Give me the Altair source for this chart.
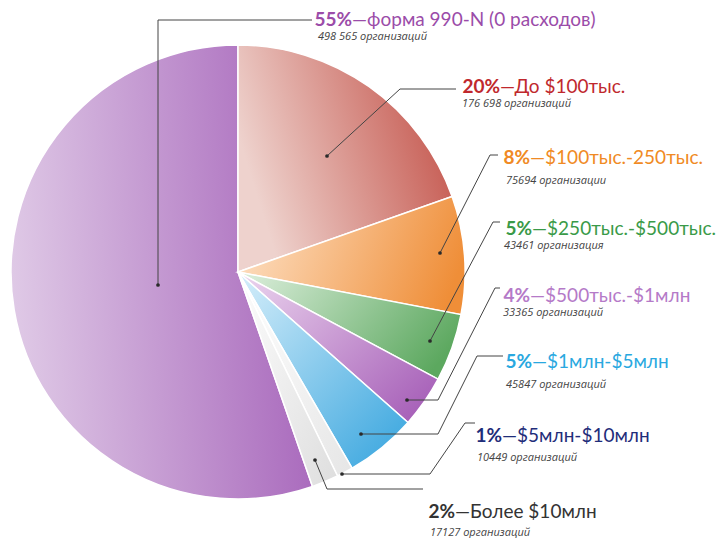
import altair as alt
import pandas as pd

# ---- data ----
categories = ["форма 990-N (0 расходов)", "До $100тыс.", "$100тыс.-250тыс.",
              "$250тыс.-$500тыс.", "$500тыс.-$1млн", "$1млн-$5млн",
              "$5млн-$10млн", "Более $10млн"]
percents = ["55%", "20%", "8%", "5%", "4%", "5%", "1%", "2%"]
counts = [498565, 176698, 75694, 43461, 33365, 45847, 10449, 17127]
count_labels = ["498 565 организаций", "176 698 организаций", "75694 организации",
                "43461 организация", "33365 организаций", "45847 организаций",
                "10449 организаций", "17127 организаций"]
pie_order = [8, 1, 2, 3, 4, 5, 6, 7]

# ---- styles / layout ----
text_colors = ["#9b4ca9", "#c0282d", "#f08a24", "#3a9a48", "#b57ac8", "#29a8e0", "#1f2d7a", "#333333"]
grad = [  # (light, dark, x1, y1, x2, y2)
    ("#dfc9e6", "#a766bb", 0, 0.5, 1, 0.4),
    ("#eed2cd", "#c5584f", 0.1, 0.7, 1, 0.4),
    ("#fde0c4", "#ef8e38", 0, 0.3, 1, 0.5),
    ("#d6ebd6", "#5ca85f", 0, 0.2, 1, 0.6),
    ("#ecd6ef", "#a862b9", 0, 0.0, 1, 0.8),
    ("#d6eefa", "#3ca7df", 0, 0.0, 0.9, 1),
    ("#ffffff", "#e6e6e6", 0, 0, 1, 1),
    ("#fdfdfd", "#dedede", 0, 0, 1, 1),
]
OFF = 8
cx, cy, R = 238 - OFF, 272 - OFF, 227
anchor = [(352, 20), (500, 87), (530, 158), (532, 229), (530, 296), (532, 362), (502, 436), (455, 512)]
count_pos = [(318, 37), (462, 104), (506, 181), (504, 246), (503, 313), (506, 385), (477, 458), (430, 533)]
leaders = [
    [(158, 285), (158, 20), (312, 20)],
    [(327, 156), (400, 89), (456, 89)],
    [(440, 253), (490, 155), (498, 155)],
    [(430, 341), (493, 222), (500, 222)],
    [(407, 400), (438, 400), (495, 288), (500, 288)],
    [(361, 434), (438, 434), (477, 356), (503, 356)],
    [(342, 474), (430, 474), (465, 423), (475, 423)],
    [(315, 460), (327, 489), (423, 489)],
]

total = sum(counts)
df = pd.DataFrame({"idx": list(range(len(categories))), "cat": categories,
                   "count": counts, "ord": pie_order})

base = alt.Chart(df).transform_window(
    cum="sum(count)", sort=[alt.SortField("ord")], frame=[None, 0]
).transform_calculate(t0="datum.cum - datum.count")

theta_scale = alt.Scale(domain=[0, total], range=[0, 6.283185307179586])

layers = []
for i in range(len(categories)):
    c1, c2, x1, y1, x2, y2 = grad[i]
    g = alt.Gradient(gradient="linear",
                     stops=[alt.GradientStop(color=c1, offset=0), alt.GradientStop(color=c2, offset=1)],
                     x1=x1, y1=y1, x2=x2, y2=y2)
    layers.append(
        base.transform_filter(alt.datum.idx == i)
        .mark_arc(fill=g, stroke="white", strokeWidth=1.5, outerRadius=R)
        .encode(theta=alt.Theta("t0:Q", scale=theta_scale), theta2="cum:Q",
                x=alt.value(cx), y=alt.value(cy))
    )

# leader lines
rows = []
for i, pts in enumerate(leaders):
    for k, (px, py) in enumerate(pts):
        rows.append({"lid": i, "k": k, "px": px - OFF, "py": py - OFF})
ldf = pd.DataFrame(rows)
lines = alt.Chart(ldf).mark_line(color="#444444", strokeWidth=1).encode(
    x=alt.X("px:Q", scale=None), y=alt.Y("py:Q", scale=None), detail="lid:N", order="k:Q")
dots = alt.Chart(ldf[ldf.k == 0]).mark_circle(color="#2a2a2a", size=14, opacity=1).encode(
    x=alt.X("px:Q", scale=None), y=alt.Y("py:Q", scale=None))

tdf = pd.DataFrame({
    "pct": percents, "rest": ["—" + c for c in categories], "cnt": count_labels,
    "ax": [a[0] - OFF for a in anchor], "ay": [a[1] - OFF for a in anchor],
    "cxp": [p[0] - OFF for p in count_pos], "cyp": [p[1] - OFF for p in count_pos],
    "col": text_colors,
})
pct_text = alt.Chart(tdf).mark_text(align="right", baseline="middle", fontSize=19,
                                    fontWeight="bold", font="Lato").encode(
    x=alt.X("ax:Q", scale=None), y=alt.Y("ay:Q", scale=None), text="pct:N",
    color=alt.Color("col:N", scale=None))
rest_text = alt.Chart(tdf).mark_text(align="left", baseline="middle", fontSize=19,
                                     font="Lato").encode(
    x=alt.X("ax:Q", scale=None), y=alt.Y("ay:Q", scale=None), text="rest:N",
    color=alt.Color("col:N", scale=None))
cnt_text = alt.Chart(tdf).mark_text(align="left", baseline="middle", fontSize=11,
                                    fontStyle="italic", font="Open Sans", color="#444444").encode(
    x=alt.X("cxp:Q", scale=None), y=alt.Y("cyp:Q", scale=None), text="cnt:N")

chart = alt.layer(*layers, lines, dots, pct_text, rest_text, cnt_text).properties(
    width=709, height=524, padding=0, background="white"
).configure_view(stroke=None)

chart.save("out.html", embed_options={"renderer": "svg", "actions": False})
